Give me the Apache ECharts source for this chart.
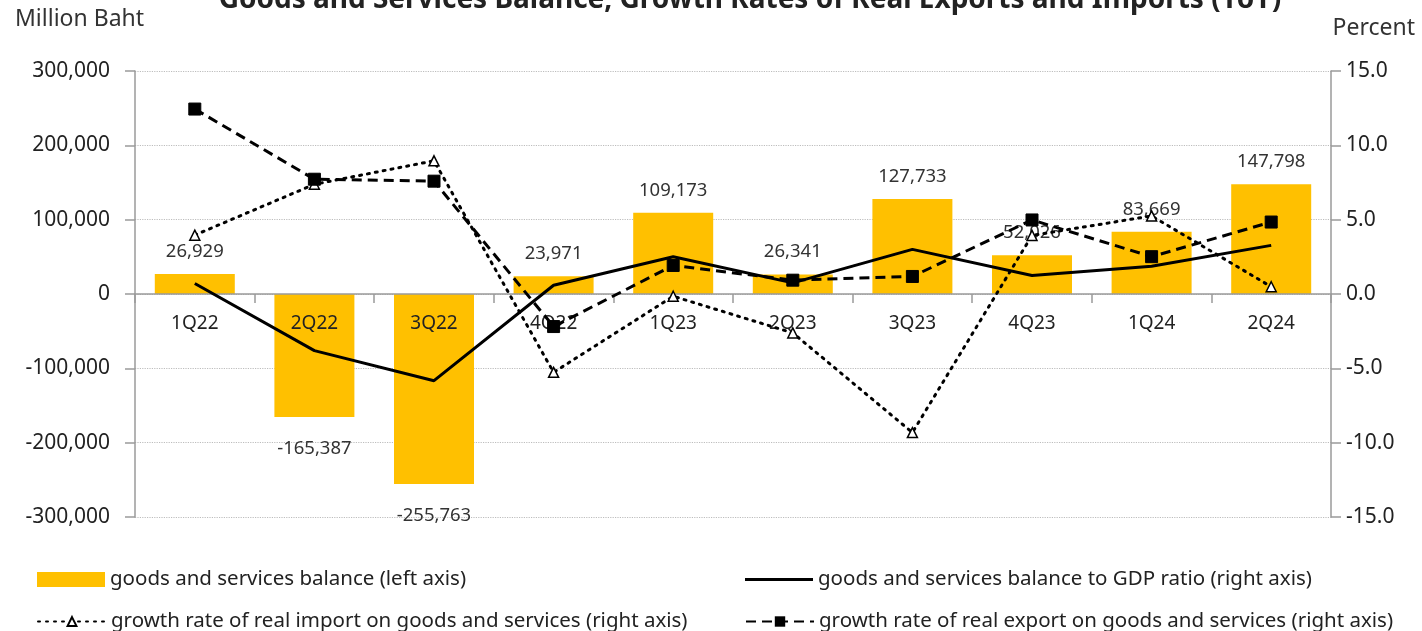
<!DOCTYPE html>
<html>
<head>
<meta charset="utf-8">
<script src="https://cdn.jsdelivr.net/npm/echarts@6/dist/echarts.min.js"></script>
<style>html,body{margin:0;padding:0;background:#fff}#c{width:1422px;height:631px}</style>
</head>
<body>
<div id="c"></div>
<script>
const categories = ['1Q22','2Q22','3Q22','4Q22','1Q23','2Q23','3Q23','4Q23','1Q24','2Q24'];
const balance = [26929, -165387, -255763, 23971, 109173, 26341, 127733, 52026, 83669, 147798];
const ratioGDP = [0.71, -3.81, -5.83, 0.59, 2.51, 0.75, 3.0, 1.25, 1.87, 3.27];
const importGrowth = [3.96, 7.38, 8.96, -5.27, -0.15, -2.62, -9.32, 3.94, 5.25, 0.49];
const exportGrowth = [12.44, 7.72, 7.59, -2.19, 1.92, 0.93, 1.18, 4.98, 2.51, 4.84];
const leftTicks = [-300000, 300000, 100000];
const rightTicks = [-15, 15, 5];

const names = [
  'goods and services balance (left axis)',
  'goods and services balance to GDP ratio (right axis)',
  'growth rate of real import on goods and services (right axis)',
  'growth rate of real export on goods and services (right axis)'
];
const FONT = 'Noto Sans';
const axisGray = '#9a9a9a';
const GRID_TOP = 71, GRID_BOTTOM = 114, H = 631;
// distance from plot bottom to the zero line (left axis symmetric range)
const zeroOffset = (H - GRID_TOP - GRID_BOTTOM) * (0 - leftTicks[0]) / (leftTicks[1] - leftTicks[0]);

const chart = echarts.init(document.getElementById('c'));
const legendText = {fontSize: 20.5, color: '#222', fontFamily: FONT};
chart.setOption({
  animation: false,
  textStyle: {fontFamily: FONT},
  title: {
    text: 'Goods and Services Balance, Growth Rates of Real Exports and Imports (YoY)',
    left: 745, textAlign: 'center', top: -19,
    textStyle: {fontSize: 28, fontWeight: 'bold', color: '#222', fontFamily: FONT}
  },
  graphic: [
    {type: 'text', left: 15, top: 8, style: {text: 'Million Baht', fontSize: 23, fill: '#333', fontFamily: FONT}},
    {type: 'text', right: 7, top: 17, style: {text: 'Percent', fontSize: 23, fill: '#333', fontFamily: FONT}}
  ],
  legend: [
    {data: [names[0]], left: 37, top: 569, padding: 0, icon: 'rect', itemWidth: 68, itemHeight: 15, itemGap: 7, textStyle: legendText},
    {data: [names[1]], left: 745, top: 569, padding: 0, icon: 'rect', itemWidth: 68, itemHeight: 3,
      itemStyle: {color: '#000'}, textStyle: legendText},
    {data: [names[2]], left: 37, top: 611, padding: 0, itemWidth: 68, itemHeight: 11, textStyle: legendText},
    {data: [names[3]], left: 745, top: 611, padding: 0, itemWidth: 68, itemHeight: 13, textStyle: legendText}
  ],
  grid: {left: 135, right: 91, top: GRID_TOP, bottom: GRID_BOTTOM, containLabel: false},
  xAxis: {
    type: 'category', data: categories,
    offset: -zeroOffset,
    z: 6,
    axisLine: {onZero: false, lineStyle: {color: axisGray, width: 1.5}},
    axisTick: {show: true, length: 9, lineStyle: {color: axisGray, width: 1.5}},
    axisLabel: {fontSize: 19, color: '#222', margin: 20, fontFamily: FONT},
    splitLine: {show: false}
  },
  yAxis: [
    {
      type: 'value', min: leftTicks[0], max: leftTicks[1], interval: leftTicks[2],
      axisLine: {show: true, onZero: false, lineStyle: {color: axisGray, width: 1.5}},
      axisTick: {show: true, length: 10, lineStyle: {color: axisGray, width: 1.5}},
      axisLabel: {fontSize: 21, color: '#222', margin: 25, fontFamily: FONT,
        formatter: v => v.toLocaleString('en-US')},
      splitLine: {show: true, lineStyle: {color: '#bdbdbd', type: 'dotted', width: 1.2}}
    },
    {
      type: 'value', min: rightTicks[0], max: rightTicks[1], interval: rightTicks[2],
      position: 'right',
      axisLine: {show: true, onZero: false, lineStyle: {color: axisGray, width: 1.5}},
      axisTick: {show: true, length: 10, lineStyle: {color: axisGray, width: 1.5}},
      axisLabel: {fontSize: 21, color: '#222', margin: 15, fontFamily: FONT,
        formatter: v => v.toFixed(1)},
      splitLine: {show: false}
    }
  ],
  series: [
    {
      name: names[0], type: 'bar', yAxisIndex: 0, barWidth: 80,
      data: balance.map(v => v < 0 ? {value: v, label: {position: 'bottom', distance: 22}} : v),
      itemStyle: {color: '#FFC000'},
      label: {show: true, fontSize: 18.5, color: '#333', fontFamily: FONT,
        formatter: p => p.value.toLocaleString('en-US'),
        position: 'top', distance: 13},
      z: 1
    },
    {
      name: names[1], type: 'line', yAxisIndex: 1, data: ratioGDP,
      symbol: 'none', lineStyle: {color: '#000', width: 3, type: 'solid'},
      itemStyle: {color: '#000'}, z: 7
    },
    {
      name: names[2], type: 'line', yAxisIndex: 1, data: importGrowth,
      symbol: 'triangle', symbolSize: 10, showAllSymbol: true,
      lineStyle: {color: '#000', width: 3, type: [2, 6], cap: 'round'},
      itemStyle: {color: '#fff', borderColor: '#000', borderWidth: 1.5}, z: 8
    },
    {
      name: names[3], type: 'line', yAxisIndex: 1, data: exportGrowth,
      symbol: 'rect', symbolSize: 12, showAllSymbol: true,
      lineStyle: {color: '#000', width: 3, type: [10, 6]},
      itemStyle: {color: '#000', borderColor: '#000'}, z: 9
    }
  ]
});
</script>
</body>
</html>
